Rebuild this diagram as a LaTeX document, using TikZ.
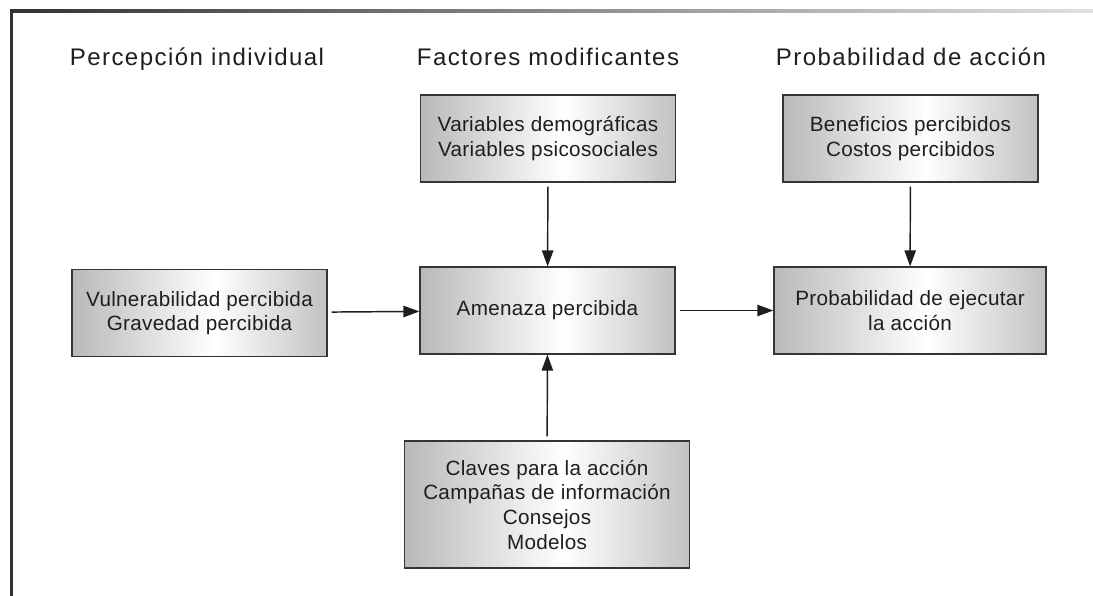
\documentclass[tikz,border=0pt]{standalone}
\usepackage{fontspec}
\setmainfont{Liberation Sans}
\newfontfamily\headfont[LetterSpace=6]{Liberation Sans}
\newfontfamily\boxfont[LetterSpace=1.5]{Liberation Sans}
\usepackage{tikz}
\usetikzlibrary{arrows.meta, positioning, shapes.misc}
\definecolor{boxedge}{HTML}{868686}
\definecolor{inkgray}{HTML}{1E1E1E}
% grey - white - grey across each box
\pgfdeclarehorizontalshading{boxshade}{100bp}{color(0bp)=(boxedge); color(12bp)=(boxedge!85!white);
    color(53bp)=(white); color(90bp)=(boxedge!85!white); color(100bp)=(boxedge)}

\begin{document}
\begin{tikzpicture}[x=0.75pt, y=-0.75pt,
    factor/.style={draw=inkgray!90, line width=1.1pt, shading=boxshade,
        align=center, text=inkgray, font=\boxfont\fontsize{15.5}{18.5}\selectfont,
        inner sep=0pt},
    heading/.style={anchor=base, text=inkgray, font=\headfont\fontsize{18}{20}\selectfont},
    flow/.style={-{Triangle[length=12pt, width=8.5pt]}, line width=1.1pt, draw=inkgray, shorten <=3pt}]
\useasboundingbox (0,0) rectangle (1093,596);

% Frame
\shade[left color=black!80, right color=black!12] (10,9.5) rectangle (1093,12.5);
\fill[black!80] (9.5,9.5) rectangle (12.5,596);

% Column headings
\node[heading] (hperc) at (197,65) {Percepción individual};
\node[heading] (hfact) at (548,65) {Factores modificantes};
\node[heading] (hprob) at (911,65) {Probabilidad de acción};

% Boxes
\node[factor, minimum width=191pt, minimum height=65pt] (vars) at (548,138.5)
    {Variables demográficas\\Variables psicosociales};
\node[factor, minimum width=191pt, minimum height=65pt] (ben) at (910.5,138.5)
    {Beneficios percibidos\\Costos percibidos};
\node[factor, minimum width=191pt, minimum height=65pt] (vul) at (199.5,313)
    {Vulnerabilidad percibida\\Gravedad percibida};
\node[factor, minimum width=191pt, minimum height=65pt] (amen) at (547.5,310.5)
    {Amenaza percibida};
\node[factor, minimum width=204pt, minimum height=65pt] (ejec) at (910,310.5)
    {Probabilidad de ejecutar\\la acción};
\node[factor, minimum width=214pt, minimum height=95pt] (claves) at (547,504.5)
    {Claves para la acción\\Campañas de información\\Consejos\\Modelos};

% Arrows
\draw[flow] (vul) -- (amen);
\draw[flow] (amen) -- (ejec);
\draw[flow] (vars) -- (amen);
\draw[flow] (ben) -- (ejec);
\draw[flow] (claves) -- (amen);

\end{tikzpicture}
\end{document}
